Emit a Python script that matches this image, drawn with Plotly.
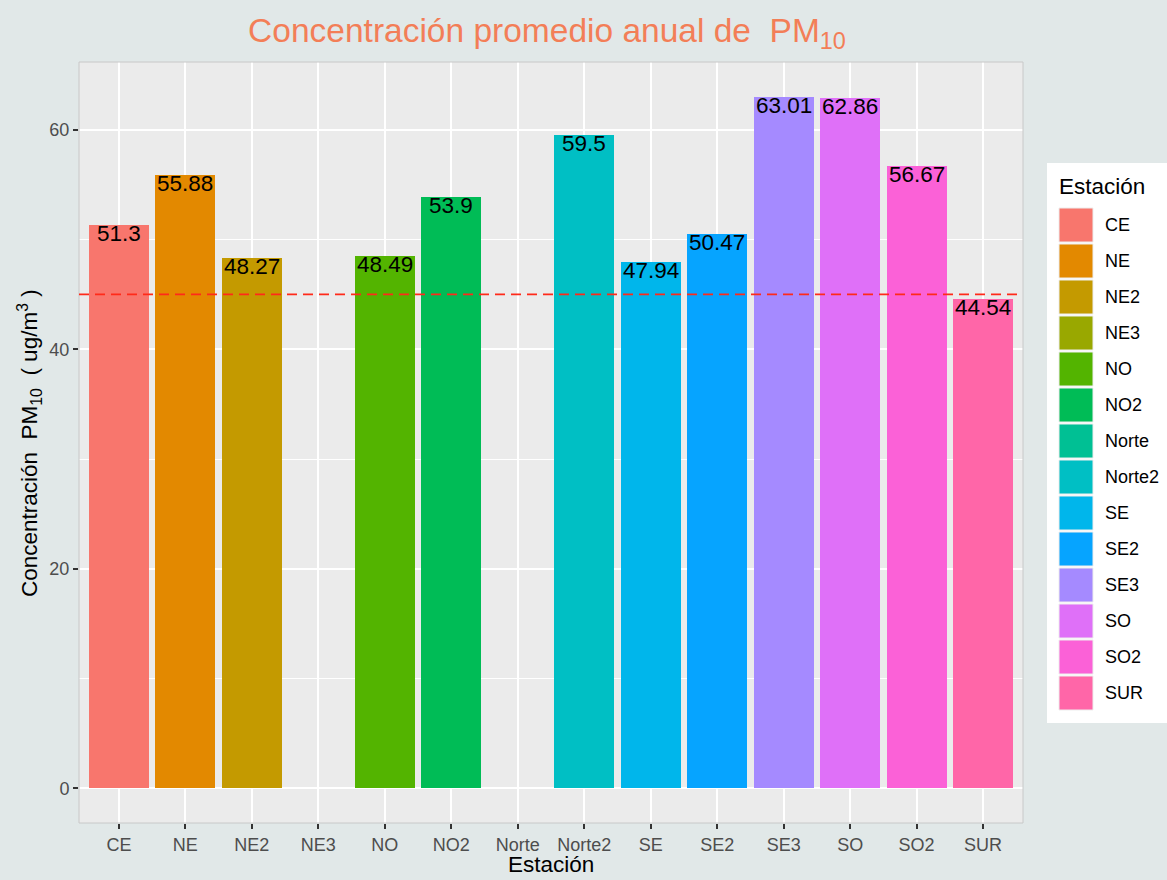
import plotly.graph_objects as go

# ---- data ----
stations = ["CE", "NE", "NE2", "NE3", "NO", "NO2", "Norte", "Norte2",
            "SE", "SE2", "SE3", "SO", "SO2", "SUR"]
pm10 = [51.3, 55.88, 48.27, None, 48.49, 53.9, None, 59.5,
        47.94, 50.47, 63.01, 62.86, 56.67, 44.54]
labels = ["51.3", "55.88", "48.27", "", "48.49", "53.9", "", "59.5",
          "47.94", "50.47", "63.01", "62.86", "56.67", "44.54"]
colors = ["#F8766D", "#E38900", "#C49A00", "#99A800", "#53B400", "#00BC56",
          "#00C094", "#00BFC4", "#00B6EB", "#06A4FF", "#A58AFF", "#DF70F8",
          "#FB61D7", "#FF66A8"]
limit = 45

# ---- layout geometry (pixels) ----
W, H = 1167, 880
L, R, T, B = 79, 1023, 62, 823


def px(x):
    return (x - L) / (R - L)


def py(y):
    return (B - y) / (B - T)


FONT = "Liberation Sans, Arial, Helvetica, sans-serif"

fig = go.Figure()
fig.add_trace(go.Bar(
    x=stations, y=pm10, width=0.9,
    marker=dict(color=colors, line=dict(width=0)),
    showlegend=False, hoverinfo="x+y",
))

ymax = 63.01 * 1.05
ymin = -63.01 * 0.05

annotations = []
for s, v, t in zip(stations, pm10, labels):
    if v is None:
        continue
    annotations.append(dict(
        x=s, y=v, xref="x", yref="y", text=t, showarrow=False,
        yanchor="top", xanchor="center", yshift=6,
        font=dict(family=FONT, size=22.5, color="black"),
    ))

# axis titles
annotations.append(dict(
    x=px(551), y=py(865), xref="paper", yref="paper", text="Estación",
    showarrow=False, xanchor="center", yanchor="middle",
    font=dict(family=FONT, size=22.5, color="black")))
annotations.append(dict(
    x=px(29), y=py(443), xref="paper", yref="paper",
    text="Concentración  PM<sub>10</sub>  ( ug/m<sup>3</sup> )",
    showarrow=False, textangle=-90, xanchor="center", yanchor="middle",
    font=dict(family=FONT, size=22.5, color="black")))

shapes = []
# panel border
shapes.append(dict(type="rect", xref="paper", yref="paper", x0=0, x1=1, y0=0, y1=1,
                   line=dict(color="#C8C8C8", width=1), fillcolor="rgba(0,0,0,0)",
                   layer="above"))
# reference line
shapes.append(dict(type="line", xref="paper", yref="y", x0=0, x1=1, y0=limit, y1=limit,
                   line=dict(color="#FF2A1A", width=1.6, dash="10px,6px"), layer="above"))

# custom legend
shapes.append(dict(type="rect", xref="paper", yref="paper",
                   x0=px(1047), x1=px(1175), y0=py(723), y1=py(163),
                   fillcolor="white", line=dict(width=0), layer="below"))
annotations.append(dict(
    x=px(1057), y=py(186), xref="paper", yref="paper", text="Estación",
    showarrow=False, xanchor="left", yanchor="middle",
    font=dict(family=FONT, size=22.5, color="black")))
for i, (s, c) in enumerate(zip(stations, colors)):
    top = 208 + 36 * i
    shapes.append(dict(type="rect", xref="paper", yref="paper",
                       x0=px(1059), x1=px(1093), y0=py(top + 34), y1=py(top),
                       fillcolor=c, line=dict(color="#EDEDED", width=1)))
    annotations.append(dict(
        x=px(1103), y=py(top + 17), xref="paper", yref="paper", text=s,
        showarrow=False, xanchor="left", yanchor="middle",
        font=dict(family=FONT, size=18, color="black")))

fig.update_layout(
    width=W, height=H,
    margin=dict(l=L, r=W - R, t=T, b=H - B, pad=0),
    paper_bgcolor="#E1E8E8",
    plot_bgcolor="#EBEBEB",
    title=dict(text="Concentración promedio anual de  PM<sub>10</sub>",
               x=px(547), xref="paper", xanchor="center",
               y=1 - 30 / H, yref="container", yanchor="middle",
               font=dict(family=FONT, size=33.5, color="#F37E57")),
    showlegend=False,
    bargap=0,
    annotations=annotations,
    shapes=shapes,
    font=dict(family=FONT),
)
fig.update_xaxes(
    type="category", categoryorder="array", categoryarray=stations,
    range=[-0.6, 13.6], showgrid=True, gridcolor="white", gridwidth=2,
    ticks="outside", ticklen=5, tickwidth=1.5, tickcolor="#333333",
    tickfont=dict(family=FONT, size=18, color="#4D4D4D"),
    showline=False, zeroline=False, fixedrange=True,
)
fig.update_yaxes(
    range=[ymin, ymax], tickmode="array", tickvals=[0, 20, 40, 60],
    showgrid=True, gridcolor="white", gridwidth=2,
    minor=dict(tickmode="array", tickvals=[10, 30, 50], showgrid=True,
               gridcolor="white", gridwidth=1, ticks=""),
    ticks="outside", ticklen=5, tickwidth=1.5, tickcolor="#333333",
    tickfont=dict(family=FONT, size=18, color="#4D4D4D"),
    showline=False, zeroline=False, fixedrange=True,
)

fig.write_html("out.html", config={"displayModeBar": False},
               post_script="document.body.style.margin='0px';")
